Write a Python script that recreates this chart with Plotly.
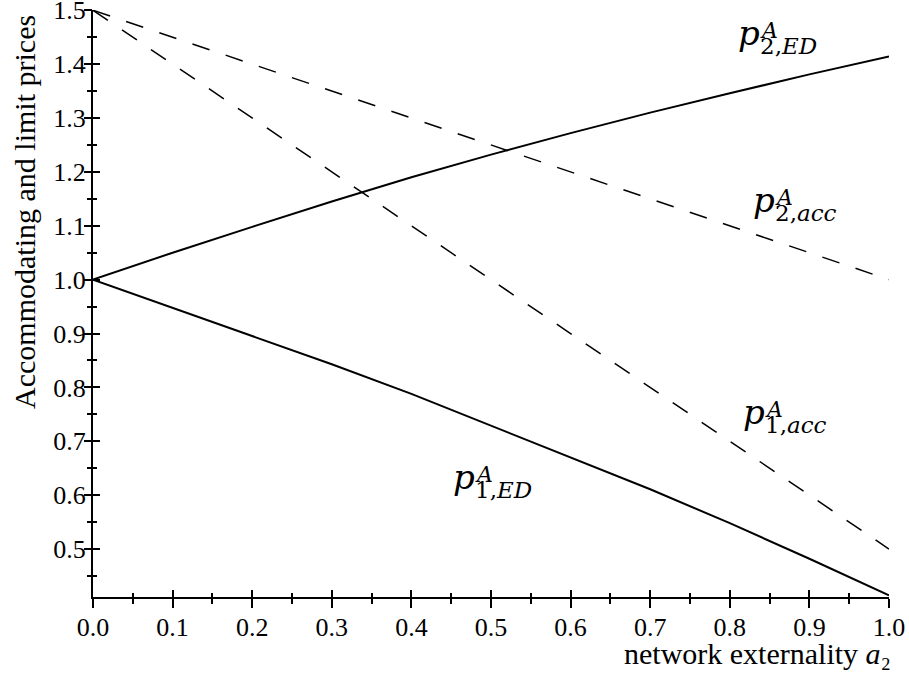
import plotly.graph_objects as go

# ---- data ----
a2 = [0.0, 0.1, 0.2, 0.3, 0.4, 0.5, 0.6, 0.7, 0.8, 0.9, 1.0]
p2_ED = [1.0, 1.050, 1.098, 1.145, 1.190, 1.232, 1.272, 1.310, 1.346, 1.381, 1.414]
p1_ED = [1.0, 0.948, 0.896, 0.843, 0.788, 0.729, 0.670, 0.611, 0.548, 0.482, 0.414]
p2_acc = [1.5, 1.45, 1.40, 1.35, 1.30, 1.25, 1.20, 1.15, 1.10, 1.05, 1.0]
p1_acc = [1.5, 1.40, 1.30, 1.20, 1.10, 1.00, 0.90, 0.80, 0.70, 0.60, 0.5]

x_ticks = [0.0, 0.1, 0.2, 0.3, 0.4, 0.5, 0.6, 0.7, 0.8, 0.9, 1.0]
x_ticklabels = ["0.0", "0.1", "0.2", "0.3", "0.4", "0.5", "0.6", "0.7", "0.8", "0.9", "1.0"]
y_ticks = [0.5, 0.6, 0.7, 0.8, 0.9, 1.0, 1.1, 1.2, 1.3, 1.4, 1.5]
y_ticklabels = ["0.5", "0.6", "0.7", "0.8", "0.9", "1.0", "1.1", "1.2", "1.3", "1.4", "1.5"]

# curve labels p^A_{sub}: text pieces and anchor positions (paper units)
label_sub = ["2,<i>ED</i>", "2,<i>acc</i>", "1,<i>acc</i>", "1,<i>ED</i>"]
label_p_x = [0.8078, 0.8266, 0.8141, 0.4497]
label_p_y = [0.9983, 0.7138, 0.3526, 0.2419]
label_sup_x = [0.8354, 0.8543, 0.8417, 0.4774]
label_sup_y = [0.9898, 0.7053, 0.3441, 0.2334]
label_sub_x = [0.8354, 0.8543, 0.8417, 0.4774]
label_sub_y = [0.9642, 0.6797, 0.3186, 0.2078]

SERIF = "Liberation Serif"
MATH = "DejaVu Serif"

fig = go.Figure()
solid = dict(color="black", width=2)
dashed = dict(color="black", width=1.5, dash="18px,17px")
fig.add_trace(go.Scatter(x=a2, y=p2_ED, mode="lines", line=solid, showlegend=False))
fig.add_trace(go.Scatter(x=a2, y=p1_ED, mode="lines", line=solid, showlegend=False))
fig.add_trace(go.Scatter(x=a2, y=p2_acc, mode="lines", line=dashed, showlegend=False))
fig.add_trace(go.Scatter(x=a2, y=p1_acc, mode="lines", line=dashed, showlegend=False))
# invisible traces carrying the overlay axes (the two halves of the crossing ticks)
fig.add_trace(go.Scatter(x=[0], y=[1.0], mode="markers", marker=dict(opacity=0),
                         xaxis="x2", yaxis="y2", showlegend=False, hoverinfo="skip"))
fig.add_trace(go.Scatter(x=[0], y=[1.0], mode="markers", marker=dict(opacity=0),
                         xaxis="x2", yaxis="y3", showlegend=False, hoverinfo="skip"))

YR = [0.411, 1.5005]
tick_common = dict(showgrid=False, zeroline=False, automargin=False, tickcolor="black")
fig.update_layout(
    width=909, height=673,
    margin=dict(l=93, r=20, t=10, b=76, autoexpand=False),
    plot_bgcolor="white", paper_bgcolor="white",
    xaxis=dict(range=[0, 1], showline=True, linecolor="black", linewidth=2,
               tickmode="array", tickvals=x_ticks, ticktext=x_ticklabels,
               ticks="outside", ticklen=9, tickwidth=2, ticklabelstandoff=-3,
               ticklabeloverflow="allow",
               tickfont=dict(family=SERIF, size=26, color="black"),
               minor=dict(tickmode="linear", tick0=0, dtick=0.05, ticks="outside",
                          ticklen=5, tickwidth=1.5, tickcolor="black"),
               **tick_common),
    yaxis=dict(range=YR, showline=True, linecolor="black", linewidth=2,
               tickmode="array", tickvals=y_ticks, ticktext=y_ticklabels,
               ticks="", ticklabelstandoff=0, ticklabeloverflow="allow",
               tickfont=dict(family=SERIF, size=26, color="black"),
               **tick_common),
    xaxis2=dict(range=[0, 1], overlaying="x", anchor="y", side="bottom",
                showline=False, showticklabels=False,
                tickmode="array", tickvals=x_ticks, ticks="inside", ticklen=7, tickwidth=2,
                minor=dict(tickmode="linear", tick0=0, dtick=0.05, ticks="inside",
                           ticklen=4, tickwidth=1.5, tickcolor="black"),
                **tick_common),
    yaxis2=dict(range=YR, overlaying="y", anchor="x", side="left",
                showline=False, showticklabels=False,
                tickmode="array", tickvals=y_ticks, ticks="inside", ticklen=7, tickwidth=2,
                minor=dict(tickmode="linear", tick0=0, dtick=0.05, ticks="inside",
                           ticklen=4, tickwidth=1.5, tickcolor="black"),
                **tick_common),
    yaxis3=dict(range=YR, overlaying="y", anchor="x", side="left",
                showline=False, showticklabels=False,
                tickmode="array", tickvals=y_ticks, ticks="outside", ticklen=8, tickwidth=2,
                minor=dict(tickmode="linear", tick0=0, dtick=0.05, ticks="outside",
                           ticklen=5, tickwidth=1.5, tickcolor="black"),
                **tick_common),
)

# axis titles
fig.add_annotation(xref="paper", yref="paper", x=-0.0854, y=0.656, text="Accommodating and limit prices",
                   textangle=-90, showarrow=False, xanchor="center", yanchor="middle",
                   font=dict(family=SERIF, size=30, color="black"))
fig.add_annotation(xref="paper", yref="paper", x=1.005, y=-0.097, text="network externality <i>a</i>₂",
                   showarrow=False, xanchor="right", yanchor="middle",
                   font=dict(family=SERIF, size=30, color="black"))

# curve labels
for i in range(len(label_sub)):
    fig.add_annotation(xref="paper", yref="paper", x=label_p_x[i], y=label_p_y[i], text="<i>p</i>",
                       showarrow=False, xanchor="left", yanchor="top",
                       font=dict(family=MATH, size=34, color="black"))
    fig.add_annotation(xref="paper", yref="paper", x=label_sup_x[i], y=label_sup_y[i], text="<i>A</i>",
                       showarrow=False, xanchor="left", yanchor="top",
                       font=dict(family=MATH, size=22, color="black"))
    fig.add_annotation(xref="paper", yref="paper", x=label_sub_x[i], y=label_sub_y[i], text=label_sub[i],
                       showarrow=False, xanchor="left", yanchor="top",
                       font=dict(family=MATH, size=23, color="black"))

fig.write_html("out.html", config={"displayModeBar": False},
               post_script="document.body.style.margin='0px';")
